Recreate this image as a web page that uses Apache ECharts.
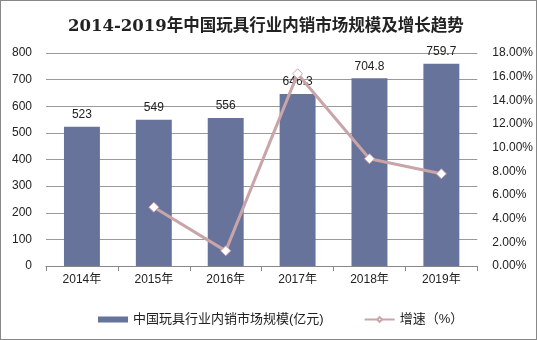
<!DOCTYPE html>
<html><head><meta charset="utf-8">
<script src="https://cdn.jsdelivr.net/npm/echarts@6/dist/echarts.min.js"></script>
<style>html,body{margin:0;padding:0;background:#fff}#c{width:537px;height:340px;box-sizing:border-box;border:1px solid #888}</style>
</head><body><div id="c"></div>
<script>
var categories = ['2014年','2015年','2016年','2017年','2018年','2019年'];
var marketSize = [523, 549, 556, 646.3, 704.8, 759.7];
var growth = [null, 4.97, 1.28, 16.24, 9.06, 7.79];
var chart = echarts.init(document.getElementById('c'));
var font = 'Arial, "Liberation Sans", "Noto Sans CJK SC", sans-serif';
chart.setOption({
  animation: false,
  title: {text: '2014-2019年中国玩具行业内销市场规模及增长趋势', left: 62, top: 12,
    textStyle: {fontFamily: '"DejaVu Serif", "Noto Sans CJK SC", serif', fontWeight: 'bold', fontSize: 16.5, color: '#222'}},
  grid: {left: 45, right: 57, top: 52, bottom: 73},
  legend: {bottom: 8, left: 92, itemGap: 40, textStyle: {fontFamily: font, fontSize: 13, color: '#222'},
    data: [{name: '中国玩具行业内销市场规模(亿元)', icon: 'rect', itemStyle: {color: '#67739a'}},
           {name: '增速（%）'}], itemWidth: 30, itemHeight: 6},
  xAxis: {type: 'category', data: categories,
    axisLine: {lineStyle: {color: '#888'}}, axisTick: {show: true, lineStyle: {color: '#888'}},
    axisLabel: {color: '#222', fontFamily: font, fontSize: 12, margin: 8}},
  yAxis: [
    {type: 'value', min: 0, max: 800, interval: 100,
      axisLine: {show: false}, axisTick: {show: false},
      splitLine: {lineStyle: {color: '#999'}},
      axisLabel: {color: '#222', fontFamily: font, fontSize: 12, margin: 14}},
    {type: 'value', min: 0, max: 18, interval: 2,
      axisLine: {show: false}, axisTick: {show: false}, splitLine: {show: false},
      axisLabel: {color: '#222', fontFamily: font, fontSize: 12, margin: 15,
        formatter: function(v){return v.toFixed(2) + '%';}}}
  ],
  series: [
    {name: '中国玩具行业内销市场规模(亿元)', type: 'bar', data: marketSize, barWidth: '50%',
      itemStyle: {color: '#67739a'},
      label: {show: true, position: 'top', distance: 6, color: '#222', fontFamily: font, fontSize: 12}},
    {name: '增速（%）', type: 'line', yAxisIndex: 1, data: growth, connectNulls: false,
      symbol: 'diamond', symbolSize: 10,
      lineStyle: {color: '#c9a5a9', width: 3},
      itemStyle: {color: '#fff', borderColor: '#c9a5a9', borderWidth: 1}}
  ]
});
</script></body></html>
